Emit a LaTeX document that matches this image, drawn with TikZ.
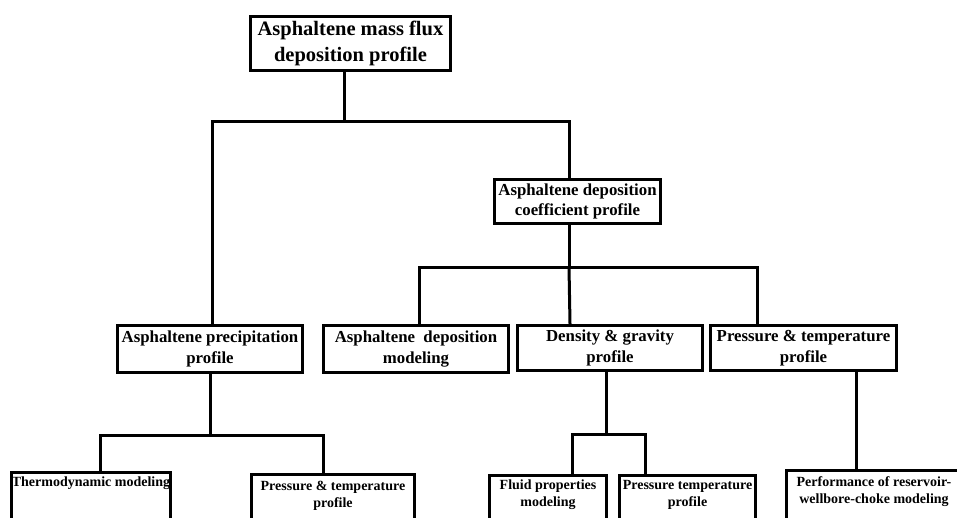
\documentclass[tikz,border=0pt]{standalone}
\usepackage{fontspec}
\setmainfont{Liberation Serif}
\begin{document}
\begin{tikzpicture}[x=1pt,y=-1pt,line width=3pt,line join=miter,
  box/.style={draw,line width=3pt,align=center,inner sep=0pt},
  topfont/.style={font=\bfseries\fontsize{20.5}{26}\selectfont},
  midfont/.style={font=\bfseries\fontsize{16.8}{20.5}\selectfont},
  lowfont/.style={font=\bfseries\fontsize{14}{17}\selectfont},
  lowbox/.style={draw,line width=3pt,anchor=north,inner sep=0pt,minimum height=80pt},
  lowlabel/.style={lowfont,align=center,inner sep=0pt}]
\useasboundingbox (0,0) rectangle (957,517);
\clip (0,0) rectangle (957,517);
% level 0 and 1
\node[box,topfont,minimum width=200pt,minimum height=54pt] (top) at (350.5,43.5) {Asphaltene mass flux\\deposition profile};
\node[box,midfont,minimum width=166pt,minimum height=44pt] (coef) at (577.5,201.5) {Asphaltene deposition\\coefficient profile};
\node[box,midfont,minimum width=185pt,minimum height=47pt] (precip) at (210,349) {Asphaltene precipitation\\profile};
\node[box,midfont,minimum width=185pt,minimum height=47pt] (depmod) at (416,349) {Asphaltene~~deposition\\modeling};
\node[box,midfont,minimum width=185pt,minimum height=45pt] (dens) at (610,348) {Density \& gravity\\profile};
\node[box,midfont,minimum width=186pt,minimum height=45pt] (pt) at (803.5,348) {Pressure \& temperature\\profile};
% bottom boxes (cut by the lower edge)
\node[lowbox,minimum width=159pt] (thermo) at (91,470.5) {};
\node[lowbox,minimum width=163pt] (press) at (333,472.5) {};
\node[lowbox,minimum width=117pt] (fluid) at (548,473.5) {};
\node[lowbox,minimum width=136pt] (ptemp) at (687.5,473.5) {};
\node[lowbox,minimum width=175pt] (perf) at (874,468.5) {};
\node[lowlabel] (thermoL) at ([yshift=-13pt]thermo.north) {Thermodynamic modeling};
\node[lowlabel] (pressL) at ([yshift=-23pt]press.north) {Pressure \& temperature\\profile};
\node[lowlabel] (fluidL) at ([yshift=-21pt]fluid.north) {Fluid properties\\modeling};
\node[lowlabel] (ptempL) at ([yshift=-21pt]ptemp.north) {Pressure temperature\\profile};
\node[lowlabel] (perfL) at ([yshift=-23pt]perf.north) {Performance of reservoir-\\wellbore-choke modeling};
% connectors
\draw ([xshift=-6.5pt]top.south) -- ++(0,49) coordinate (j1);
\draw ([xshift=2pt]precip.north) |- (j1) -| ([xshift=-8.5pt]coef.north);
\draw ([xshift=-8.5pt]coef.south) -- ++(0,42) coordinate (j2);
\draw ([xshift=3pt]depmod.north) |- (j2) -| ([xshift=-46.5pt]pt.north);
\draw (j2) -- ([xshift=-40pt]dens.north);
\draw (precip.south) -- ++(0,61) coordinate (j3);
\draw ([xshift=9pt]thermo.north) |- (j3) -| ([xshift=-10pt]press.north);
\draw ([xshift=-4pt]dens.south) -- ++(0,62) coordinate (j4);
\draw ([xshift=24pt]fluid.north) |- (j4) -| ([xshift=-42.5pt]ptemp.north);
\draw ([xshift=52.5pt]pt.south) coordinate (s5) -- (s5 |- perf.north);
\end{tikzpicture}
\end{document}
